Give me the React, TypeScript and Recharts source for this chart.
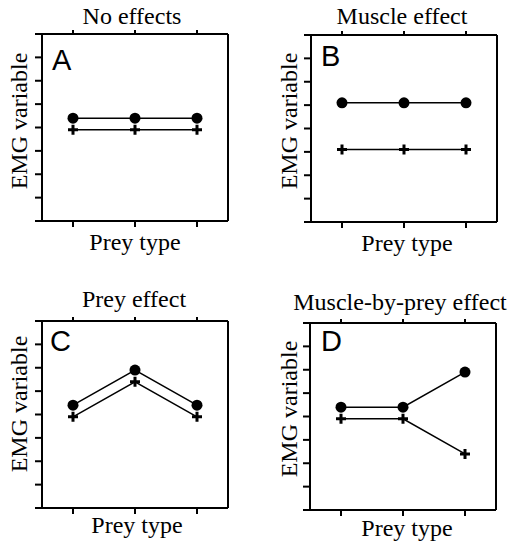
import React from 'react'
import { LineChart, Line, XAxis, YAxis } from 'recharts'

// prey type index (3 prey types, no labels on the axis)
const preyTypes = [1, 2, 3]
const yTicks = [0, 1, 2, 3, 4, 5, 6, 7, 8]

// muscle 1 (filled circles) and muscle 2 (crosses), per panel
const noEffectCircle = [4.4, 4.4, 4.4]
const noEffectCross = [3.9, 3.9, 3.9]
const muscleCircle = [5.1, 5.1, 5.1]
const muscleCross = [3.1, 3.1, 3.1]
const preyCircle = [4.4, 5.9, 4.4]
const preyCross = [3.9, 5.4, 3.9]
const interCircle = [4.4, 4.4, 5.9]
const interCross = [3.9, 3.9, 2.4]

const rows = (a: number[], b: number[]) => preyTypes.map((p, i) => ({ prey: p, circle: a[i], cross: b[i] }))

const INK = '#000'
const serif = '"Liberation Serif", "Times New Roman", serif'
const sans = '"Liberation Sans", Arial, sans-serif'

// margins already account for the 1px axis width/height
const PANELS = [
  { id: 'A', title: 'No effects', data: rows(noEffectCircle, noEffectCross),
    left: 0, top: 0, w: 255, h: 270, margin: { top: 33, right: 26, bottom: 48, left: 41 },
    titleX: 132, titleY: 24, xlabX: 135, xlabY: 250, ylabX: 27, ylabY: 121, letX: 52, letY: 70 },
  { id: 'B', title: 'Muscle effect', data: rows(muscleCircle, muscleCross),
    left: 255, top: 0, w: 255, h: 270, margin: { top: 34, right: 12, bottom: 47, left: 55 },
    titleX: 402, titleY: 24, xlabX: 407, xlabY: 251, ylabX: 297, ylabY: 121, letX: 321, letY: 66 },
  { id: 'C', title: 'Prey effect', data: rows(preyCircle, preyCross),
    left: 0, top: 270, w: 255, h: 277, margin: { top: 50, right: 26, bottom: 38, left: 41 },
    titleX: 134, titleY: 307, xlabX: 137, xlabY: 533, ylabX: 27, ylabY: 404, letX: 50, letY: 351 },
  { id: 'D', title: 'Muscle-by-prey effect', data: rows(interCircle, interCross),
    left: 255, top: 270, w: 255, h: 277, margin: { top: 52, right: 13, bottom: 36, left: 54 },
    titleX: 400, titleY: 310, xlabX: 407, xlabY: 536, ylabX: 297, ylabY: 409, letX: 321, letY: 351 },
]

const axisLine = { stroke: INK, strokeWidth: 2 }
const tickLine = { stroke: INK, strokeWidth: 2 }
const blank = () => ''

function CircleDot(p: any) {
  if (p.cx == null || p.cy == null) return <g key={p.index} />
  return <circle key={p.index} cx={p.cx} cy={p.cy} r={5.5} fill={INK} />
}

function CrossDot(p: any) {
  if (p.cx == null || p.cy == null) return <g key={p.index} />
  const s = 5
  return (
    <path key={p.index} d={`M${p.cx - s},${p.cy}H${p.cx + s}M${p.cx},${p.cy - s}V${p.cy + s}`}
      stroke={INK} strokeWidth={3} fill="none" />
  )
}

function Panel({ cfg }: { cfg: typeof PANELS[number] }) {
  return (
    <div style={{ position: 'absolute', left: cfg.left, top: cfg.top }}>
      <LineChart width={cfg.w} height={cfg.h} data={cfg.data} margin={cfg.margin}>
        <XAxis xAxisId="b" dataKey="prey" type="number" domain={[0.5, 3.5]} ticks={preyTypes}
          height={1} axisLine={axisLine} tickLine={tickLine} tickSize={6} tickFormatter={blank} />
        <XAxis xAxisId="t" orientation="top" dataKey="prey" type="number" domain={[0.5, 3.5]} ticks={preyTypes}
          height={1} axisLine={axisLine} tickLine={tickLine} tickSize={4} tickFormatter={blank} />
        <YAxis yAxisId="l" type="number" domain={[0, 8]} ticks={yTicks} width={1}
          axisLine={axisLine} tickLine={tickLine} tickSize={7} tickFormatter={blank} />
        <YAxis yAxisId="r" orientation="right" type="number" domain={[0, 8]} ticks={yTicks} width={1}
          axisLine={axisLine} tickLine={tickLine} tickSize={9} tickFormatter={blank} />
        <Line xAxisId="b" yAxisId="l" dataKey="cross" stroke={INK} strokeWidth={1.5}
          dot={CrossDot} activeDot={false} isAnimationActive={false} />
        <Line xAxisId="b" yAxisId="l" dataKey="circle" stroke={INK} strokeWidth={1.5}
          dot={CircleDot} activeDot={false} isAnimationActive={false} />
      </LineChart>
    </div>
  )
}

export default function App() {
  return (
    <div style={{ position: 'absolute', left: 0, top: 0, width: 510, height: 547, background: '#fff' }}>
      {PANELS.map((p) => <Panel key={p.id} cfg={p} />)}
      <svg width={510} height={547} style={{ position: 'absolute', left: 0, top: 0, pointerEvents: 'none' }}>
        {PANELS.map((p) => (
          <g key={p.id} fill={INK}>
            <text x={p.titleX} y={p.titleY} textAnchor="middle" fontFamily={serif} fontSize={24}>{p.title}</text>
            <text x={p.xlabX} y={p.xlabY} textAnchor="middle" fontFamily={serif} fontSize={24}>Prey type</text>
            <text transform={`translate(${p.ylabX},${p.ylabY}) rotate(-90)`} textAnchor="middle"
              fontFamily={serif} fontSize={24}>EMG variable</text>
            <text x={p.letX} y={p.letY} fontFamily={sans} fontSize={29}>{p.id}</text>
          </g>
        ))}
      </svg>
    </div>
  )
}
